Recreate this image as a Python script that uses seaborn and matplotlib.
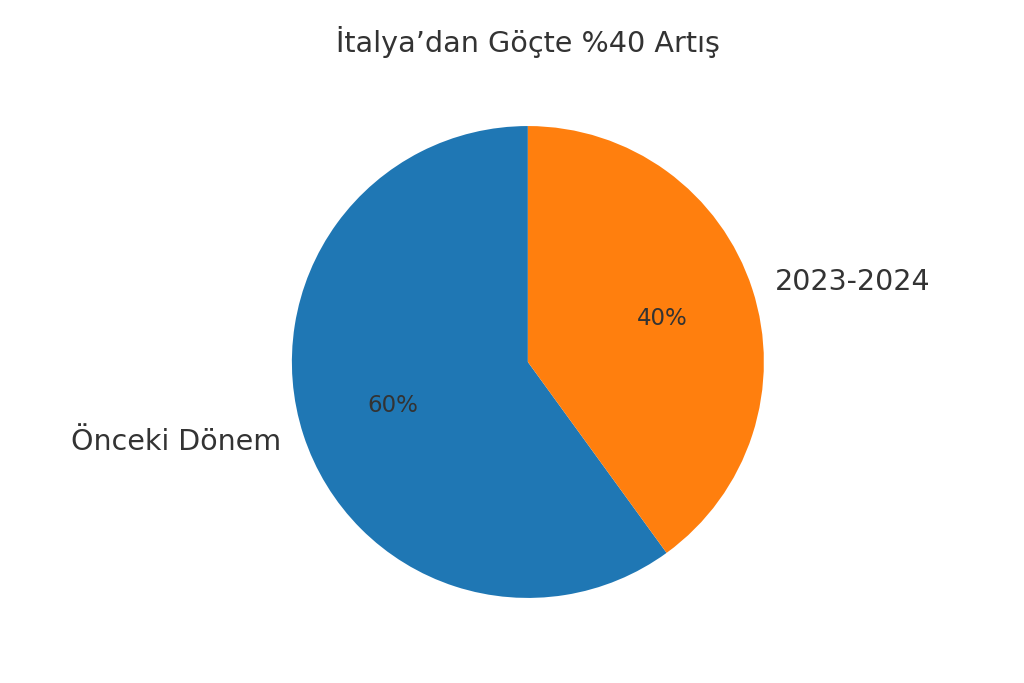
import matplotlib
matplotlib.use("Agg")
import matplotlib.pyplot as plt
import seaborn as sns

labels = ["Önceki Dönem", "2023-2024"]
values = [60, 40]
title = "İtalya’dan Göçte %40 Artış"

sns.set_theme(style="white")
plt.rcParams['font.family'] = ['DejaVu Sans']
colors = sns.color_palette("tab10", 2)

fig = plt.figure(figsize=(10.24, 6.83), dpi=100)
ax = fig.add_axes([0.262, 0.090, 0.507, 0.760])
wedges, texts, autotexts = ax.pie(values, labels=labels, colors=colors,
                                  autopct='%1.0f%%', startangle=90,
                                  wedgeprops={'linewidth': 0},
                                  textprops={'color': '#333333'})
for t in texts:
    t.set_fontsize(20.5)
for t in autotexts:
    t.set_fontsize(16.5)
ax.axis('equal')
fig.text(0.5156, 1 - 42 / 683, title, fontsize=20.6, color='#333333',
         ha='center', va='center')
fig.savefig("out.png", dpi=100)
